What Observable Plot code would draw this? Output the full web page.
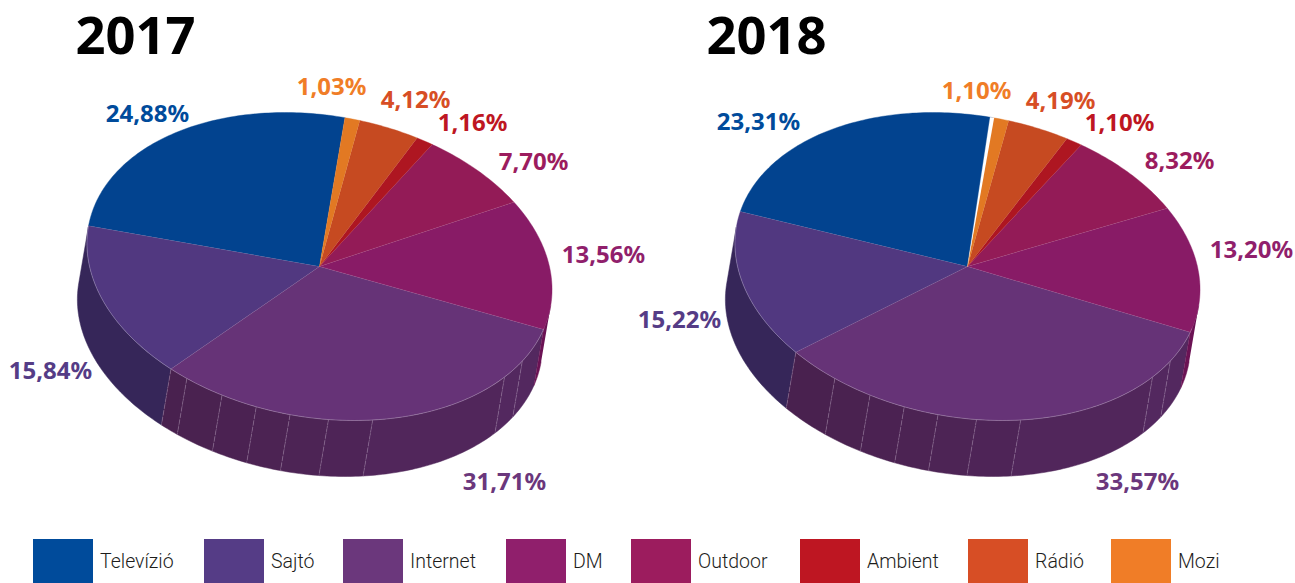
<!DOCTYPE html>
<html lang="hu">
<head>
<meta charset="utf-8">
<script src="https://cdn.jsdelivr.net/npm/d3@7"></script>
<script src="https://cdn.jsdelivr.net/npm/@observablehq/plot@0.6"></script>
<style>
  html, body { margin: 0; padding: 0; background: #fff; overflow: hidden; }
  #titles { position: relative; height: 70px; font: 700 52.5px/68px 'Noto Sans', sans-serif; color: #000; }
  #titles span { position: absolute; top: 0; }
  #legend { position: relative; height: 53px; display: grid; padding: 9px 0 0 33px; box-sizing: border-box;
    grid-template-columns: 171px 139px 163px 125px 169px 168px 143px 100px; }
  .item { display: flex; align-items: center; height: 44px; font: 300 19.5px Roboto, sans-serif; color: #1d1d1b; }
  .swatch { width: 60px; height: 44px; margin-right: 7px; flex: none; }
</style>
</head>
<body>
<div id="titles"></div>
<div id="chart"></div>
<div id="legend"></div>
<script>
// Data
const categories = ["Televízió", "Sajtó", "Internet", "DM", "Outdoor", "Ambient", "Rádió", "Mozi"];
const values2017 = [24.88, 15.84, 31.71, 13.56, 7.70, 1.16, 4.12, 1.03];
const values2018 = [23.31, 15.22, 33.57, 13.20, 8.32, 1.10, 4.19, 1.10];
const years = ["2017", "2018"];

// Colours
const legendColors = ["#004b9b", "#553c86", "#6b377c", "#901f6c", "#9c1c5e", "#be1622", "#d74e25", "#f07d27"];
const topColors    = ["#02438f", "#513880", "#663377", "#881b66", "#931b57", "#ae1621", "#c64a21", "#e27923"];
const wallColors   = ["#02438f", "#362659", "#52285f", "#6b1254", "#931b57", "#ae1621", "#c64a21", "#e27923"];

// Label placement (label centres)
const labelX2017 = [147, 50, 504, 603, 533, 472, 415, 331];
const labelY2017 = [114, 371, 482, 255, 162, 123, 100, 87];
const labelX2018 = [758, 679, 1137, 1251, 1179, 1119, 1060, 976];
const labelY2018 = [122, 320, 482, 250, 161, 123, 101, 91];

// Pie geometry
const centers = [[319, 266], [967, 266]];
const titleX = [75.5, 706.5];
const A = 234.5, B = 151, TILT = 9.7 * Math.PI / 180, DEPTH = 56.8, START = 270;
const facetAngles = [23, 31, 70.5, 81.5, 91, 99.5, 108.5, 118.5];
const gaps = [null, [269.3, 270.3]];

const rad = d => d * Math.PI / 180;
const rim = (c, t, h = 0) => {
  const u = A * Math.cos(rad(t)), v = B * Math.sin(rad(t)) + h;
  return [c[0] + u * Math.cos(TILT) - v * Math.sin(TILT), c[1] + u * Math.sin(TILT) + v * Math.cos(TILT)];
};
const arc = (c, t0, t1, h = 0) => {
  const n = Math.max(2, Math.ceil(Math.abs(t1 - t0)));
  return d3.range(n + 1).map(i => rim(c, t0 + (t1 - t0) * i / n, h));
};
const wedge = (c, t0, t1) => [c, ...arc(c, t0, t1)];
const poly = (pts, o) => Plot.line(pts, {x: d => d[0], y: d => d[1], curve: "linear", ...o});

function pieMarks(values, c, gap) {
  // slice ranges, walking counter-clockwise from the top in legend order
  let t = START;
  const slices = values.map((v, i) => {
    const t1 = t, t0 = t - v * 3.6;
    t = t0;
    return {i, t0, t1};
  });
  const shade = d3.interpolateRgb("#49214f", "#53285f");
  const marks = [];
  // side wall (visible rim is 0..180)
  for (const s of slices) {
    const lo = Math.max(s.t0, 0), hi = Math.min(s.t1, 180);
    if (hi <= lo) continue;
    const isInternet = categories[s.i] === "Internet";
    const inside = facetAngles.filter(f => f > lo && f < hi);
    const cuts = isInternet ? [lo, ...inside, hi] : [lo, hi];
    d3.pairs(cuts).forEach(([a, b]) => {
      const fill = isInternet ? shade(1 - Math.min(1, Math.max(0, ((a + b) / 2 - 30) / 90))) : wallColors[s.i];
      marks.push(poly([...arc(c, a, b), ...arc(c, b, a, DEPTH)], {fill, stroke: fill, strokeWidth: 0.5}));
    });
    if (isInternet) {
      inside.concat([hi]).forEach(f => {
        marks.push(poly([rim(c, f), rim(c, f, DEPTH)], {stroke: "#cbb6d2", strokeWidth: 0.7, strokeOpacity: 0.42, strokeDasharray: "5 2"}));
      });
    }
  }
  // top slices
  for (const s of slices) {
    marks.push(poly(wedge(c, s.t0, s.t1), {fill: topColors[s.i], stroke: topColors[s.i], strokeWidth: 0.4}));
  }
  // thin light seams
  for (const s of slices.slice(0, 4)) {
    marks.push(poly([c, rim(c, s.t0)], {stroke: "#fff", strokeWidth: 0.5, strokeOpacity: 0.14}));
  }
  marks.push(poly(arc(c, 9, 180), {stroke: "#fff", strokeWidth: 0.7, strokeOpacity: 0.35}));
  if (gap) marks.push(poly(wedge(c, gap[0], gap[1]), {fill: "#fff", stroke: "#fff", strokeWidth: 0.3}));
  return marks;
}

const fmt = v => d3.format(".2f")(v).replace(".", ",") + "%";
const labelMark = (values, xs, ys) => Plot.text(values.map((v, i) => ({v, i})), {
  x: d => xs[d.i], y: d => ys[d.i], text: d => fmt(d.v),
  fill: d => legendColors[d.i],
  fontFamily: "'Noto Sans', sans-serif", fontWeight: 700, fontSize: 24, textAnchor: "middle", lineAnchor: "middle"
});

const plot = Plot.plot({
  width: 1295, height: 460, margin: 0,
  x: {domain: [0, 1295], range: [0, 1295], axis: null},
  y: {domain: [70, 530], range: [0, 460], axis: null},
  style: {background: "#fff"},
  marks: [
    ...pieMarks(values2017, centers[0], gaps[0]),
    ...pieMarks(values2018, centers[1], gaps[1]),
    labelMark(values2017, labelX2017, labelY2017),
    labelMark(values2018, labelX2018, labelY2018)
  ]
});
document.getElementById("chart").append(plot);
plot.style.display = "block";

const titles = d3.select("#titles");
years.forEach((y, i) => titles.append("span").style("left", titleX[i] + "px").text(y));

const legend = d3.select("#legend");
categories.forEach((name, i) => {
  const item = legend.append("div").attr("class", "item");
  item.append("div").attr("class", "swatch").style("background", legendColors[i]);
  item.append("span").text(name);
});
</script>
</body>
</html>
